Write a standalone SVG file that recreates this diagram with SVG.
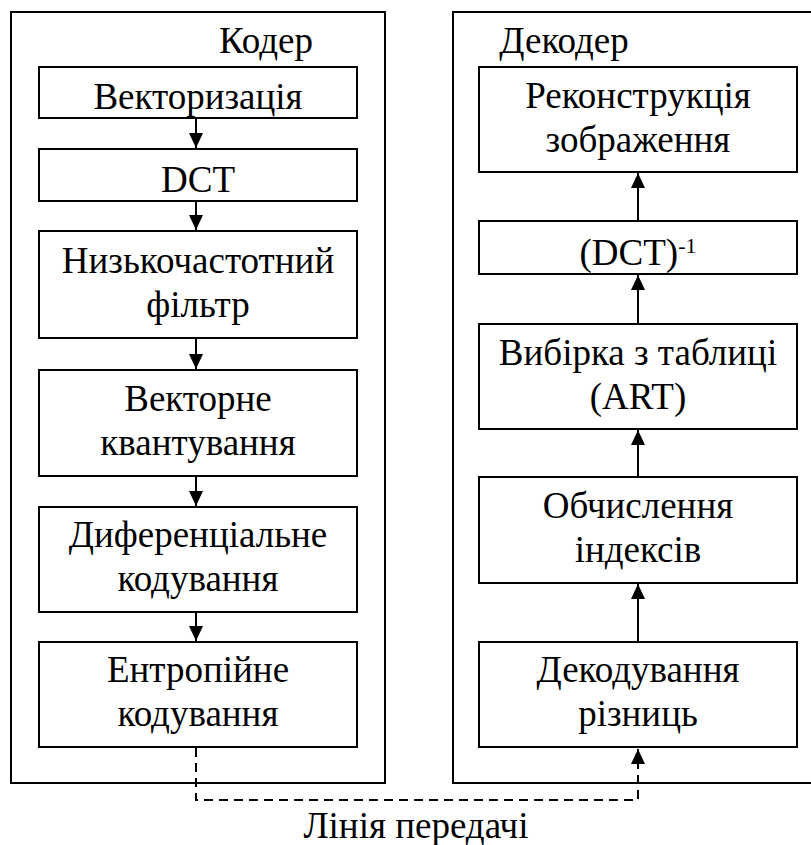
<svg xmlns="http://www.w3.org/2000/svg" width="811" height="845" viewBox="0 0 811 845">
<style>
.frame{fill:none;stroke:#000;stroke-width:2}
.box{fill:#fff;stroke:#000;stroke-width:2}
.t{font-family:'Liberation Serif','DejaVu Serif','Times New Roman',Times,serif;font-size:37px;fill:#000;text-anchor:middle}
.conn{fill:none;stroke:#000;stroke-width:2}
.dash{fill:none;stroke:#000;stroke-width:2;stroke-dasharray:9 6}
</style>
<defs>
<marker id="ah" markerUnits="userSpaceOnUse" markerWidth="16" markerHeight="16" viewBox="0 0 16 16" refX="15" refY="8" orient="auto">
<path d="M0,1 L15,8 L0,15 Z" fill="#000"/>
</marker>
</defs>
<g id="encoder">
<rect class="frame" x="11" y="12" width="374" height="771"/>
<text class="t" x="266" y="53" font-family="Liberation Serif">Кодер</text>
</g>
<g id="decoder">
<rect class="frame" x="453" y="12" width="370" height="771"/>
<text class="t" x="564" y="53" font-family="Liberation Serif">Декодер</text>
</g>
<g id="vectorization"><rect class="box" x="39" y="67" width="318" height="51"/><text class="t" x="198" y="109">Векторизація</text></g>
<g id="dct"><rect class="box" x="39" y="149" width="318" height="52"/><text class="t" x="198" y="192">DCT</text></g>
<g id="lowpass"><rect class="box" x="39" y="231" width="318" height="107"/><text class="t" x="198" y="273">Низькочастотний</text><text class="t" x="198" y="317">фільтр</text></g>
<g id="vq"><rect class="box" x="39" y="370" width="318" height="106"/><text class="t" x="198" y="411">Векторне</text><text class="t" x="198" y="455">квантування</text></g>
<g id="diff"><rect class="box" x="39" y="507" width="318" height="105"/><text class="t" x="198" y="547">Диференціальне</text><text class="t" x="198" y="591">кодування</text></g>
<g id="entropy"><rect class="box" x="39" y="642" width="318" height="105"/><text class="t" x="198" y="682">Ентропійне</text><text class="t" x="198" y="726">кодування</text></g>
<g id="reconstruct"><rect class="box" x="479" y="67" width="318" height="105"/><text class="t" x="638" y="108">Реконструкція</text><text class="t" x="638" y="152">зображення</text></g>
<g id="idct"><rect class="box" x="479" y="221" width="318" height="53"/><text class="t" x="638" y="265">(DCT)<tspan font-size="22px" dy="-12">-1</tspan></text></g>
<g id="lookup"><rect class="box" x="479" y="324" width="318" height="105"/><text class="t" x="638" y="365">Вибірка з таблиці</text><text class="t" x="638" y="409">(ART)</text></g>
<g id="indices"><rect class="box" x="479" y="477" width="318" height="106"/><text class="t" x="638" y="518">Обчислення</text><text class="t" x="638" y="562">індексів</text></g>
<g id="decdiff"><rect class="box" x="479" y="642" width="318" height="105"/><text class="t" x="638" y="682">Декодування</text><text class="t" x="638" y="726">різниць</text></g>
<g id="connectors">
<line class="conn" x1="196" y1="118" x2="196" y2="148" marker-end="url(#ah)"/>
<line class="conn" x1="196" y1="201" x2="196" y2="230" marker-end="url(#ah)"/>
<line class="conn" x1="196" y1="338" x2="196" y2="369" marker-end="url(#ah)"/>
<line class="conn" x1="196" y1="476" x2="196" y2="506" marker-end="url(#ah)"/>
<line class="conn" x1="196" y1="612" x2="196" y2="641" marker-end="url(#ah)"/>
<line class="conn" x1="638" y1="642" x2="638" y2="584" marker-end="url(#ah)"/>
<line class="conn" x1="638" y1="477" x2="638" y2="430" marker-end="url(#ah)"/>
<line class="conn" x1="638" y1="324" x2="638" y2="275" marker-end="url(#ah)"/>
<line class="conn" x1="638" y1="221" x2="638" y2="173" marker-end="url(#ah)"/>
<path class="dash" d="M196,748 V800 H638 V749" marker-end="url(#ah)"/>
</g>
<text class="t" x="416" y="838">Лінія передачі</text>
</svg>
